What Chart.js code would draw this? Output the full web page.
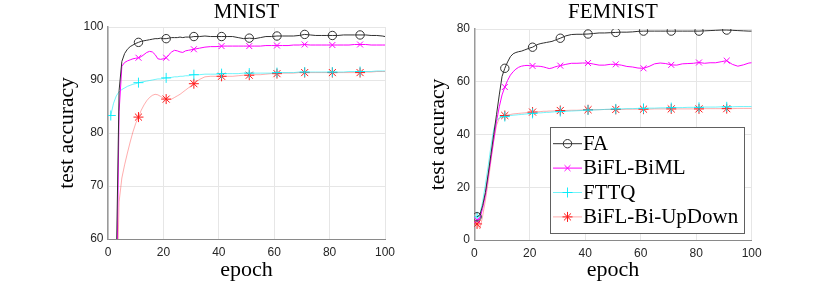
<!DOCTYPE html>
<html><head><meta charset="utf-8">
<script src="https://cdn.jsdelivr.net/npm/chart.js@4.4.1/dist/chart.umd.min.js"></script>
<style>
html,body{margin:0;padding:0;background:#fff;width:830px;height:290px;overflow:hidden}
canvas{position:absolute;top:0}
#c1{left:0}
#c2{left:415px}
</style></head><body>
<canvas id="c1" width="415" height="290" style="width:415px;height:290px"></canvas>
<canvas id="c2" width="415" height="290" style="width:415px;height:290px"></canvas>
<script>
// ---------- data ----------
const epochs = [1,2,3,4,5,6,7,8,9,10,11,12,13,14,15,16,17,18,19,20,21,22,23,24,25,26,27,28,29,30,
  31,33,35,37,39,41,43,45,47,49,51,53,55,57,59,61,63,65,67,69,71,73,75,77,79,81,83,85,87,89,91,93,95,97,99,100];
const seriesNames = ['FA','BiFL-BiML','FTTQ','BiFL-Bi-UpDown'];
const chartTitles = ['MNIST','FEMNIST'];
const xTitle = 'epoch';
const yTitle = 'test accuracy';
const xTicks = [0,20,40,60,80,100];
const mnistYTicks = [60,70,80,90,100];
const femnistYTicks = [0,20,40,60,80];

const mnistFA = [10,11,55,88,93.5,95.0,95.8,96.3,96.6,96.9,
  97.1,97.3,97.4,97.5,97.6,97.7,97.8,97.8,97.9,97.8,
  97.8,97.9,98.0,98.0,98.0,98.1,98.0,98.1,98.1,98.1,
  98.2,98.2,98.3,98.2,98.2,98.2,98.2,98.2,98.0,97.8,
  97.9,97.8,98.0,98.2,98.2,98.3,98.3,98.3,98.3,98.4,
  98.6,98.5,98.4,98.4,98.4,98.4,98.4,98.5,98.5,98.5,
  98.5,98.5,98.4,98.4,98.3,98.2];
const mnistBiML = [10,10,45,84,92.6,93.3,93.6,93.8,94.0,94.1,
  94.2,94.4,94.8,95.2,95.4,95.3,94.8,94.0,93.9,94.0,
  94.2,94.8,95.3,95.6,95.5,95.3,95.2,95.5,95.6,95.7,
  95.8,96.0,96.2,96.3,96.3,96.4,96.4,96.4,96.4,96.4,
  96.4,96.4,96.4,96.5,96.5,96.5,96.5,96.5,96.6,96.6,
  96.7,96.6,96.6,96.6,96.6,96.6,96.6,96.6,96.6,96.7,
  96.7,96.7,96.6,96.6,96.6,96.6];
const mnistFTTQ = [83.3,85.6,87.0,87.8,88.2,88.5,88.8,89.0,89.2,89.3,
  89.5,89.6,89.7,89.8,89.9,90.0,90.1,90.2,90.2,90.3,
  90.4,90.4,90.5,90.6,90.6,90.7,90.7,90.8,90.8,90.9,
  91.0,91.0,91.1,91.1,91.1,91.2,91.2,91.2,91.2,91.3,
  91.3,91.3,91.3,91.3,91.3,91.4,91.4,91.4,91.4,91.5,
  91.5,91.5,91.5,91.5,91.5,91.5,91.5,91.5,91.6,91.6,
  91.6,91.6,91.6,91.7,91.7,91.7];
const mnistUpDown = [10,20,45,67,71.5,74.0,76.2,78.3,80.2,81.8,
  83.0,84.3,85.3,86.1,86.7,87.1,87.3,87.2,86.9,86.6,
  86.4,86.3,86.4,86.7,87.0,87.3,87.7,88.1,88.5,88.9,
  89.3,90.1,90.6,90.7,90.7,90.7,90.7,90.7,90.8,90.9,
  90.9,91.0,91.0,91.1,91.2,91.2,91.3,91.3,91.3,91.4,
  91.4,91.4,91.4,91.4,91.4,91.4,91.4,91.4,91.4,91.4,
  91.4,91.5,91.5,91.6,91.6,91.6];

const femFA = [8.8,9.5,13,18,25,32.5,40,47.5,55,62,
  65.1,67.5,69.5,70.6,71.1,71.4,71.6,72.0,72.4,72.8,
  73.1,73.7,74.2,74.5,74.7,74.9,75.1,75.3,75.7,76.1,
  76.5,77.4,77.9,78.0,78.0,78.1,78.3,78.5,78.5,78.6,
  78.7,78.8,78.8,78.9,79.1,79.2,79.2,79.2,79.2,79.2,
  79.2,79.2,79.2,79.2,79.2,79.2,79.3,79.4,79.5,79.6,
  79.6,79.5,79.4,79.3,79.2,79.2];
const femBiML = [7.5,8,12,17,24,31,38,45,50.5,55,
  58.0,60.5,62.5,63.8,64.8,65.5,65.9,66.1,66.2,66.1,
  66.0,65.9,65.9,65.8,65.6,65.3,65.0,65.2,65.6,65.9,
  66.1,66.6,67.0,67.0,67.1,67.1,66.7,66.3,66.3,66.6,
  66.6,66.3,65.8,65.6,65.2,65.1,65.8,66.8,67.1,66.9,
  66.4,66.3,66.8,66.9,67.0,67.3,67.0,67.2,67.2,67.6,
  68.0,66.6,65.9,66.4,67.1,67.2];
const femFTTQ = [8.8,9.8,14.5,21,28,35.5,42,45.3,46.2,46.6,
  46.8,47.0,47.2,47.3,47.4,47.5,47.6,47.7,47.8,47.9,
  48.0,48.1,48.2,48.2,48.3,48.4,48.4,48.5,48.6,48.6,
  48.7,48.8,48.9,49.0,49.1,49.3,49.3,49.4,49.5,49.6,
  49.7,49.7,49.8,49.8,49.9,49.9,50.0,50.0,50.1,50.1,
  50.2,50.2,50.2,50.3,50.3,50.3,50.4,50.4,50.4,50.5,
  50.5,50.5,50.6,50.6,50.6,50.6];
const femUpDown = [6.1,4.2,9,15,22,30,37.5,43.5,46.2,46.9,
  47.2,47.4,47.6,47.8,47.9,48.0,48.1,48.2,48.3,48.4,
  48.5,48.6,48.6,48.7,48.8,48.8,48.9,48.9,49.0,49.0,
  49.1,49.1,49.2,49.2,49.3,49.4,49.4,49.4,49.5,49.5,
  49.5,49.5,49.6,49.6,49.6,49.6,49.6,49.7,49.7,49.7,
  49.7,49.7,49.7,49.7,49.7,49.7,49.8,49.8,49.8,49.8,
  49.8,49.8,49.9,49.9,49.9,49.9];

// ---------- styles ----------
const styles = [
  {line:'#303030', mark:'#303030', ps:'circle', r:4.2, bw:1},
  {line:'#ff00ff', mark:'#ff00ff', ps:'crossRot', r:4.2, bw:1},
  {line:'rgba(0,235,245,0.55)', mark:'rgba(0,235,250,0.9)', ps:'cross', r:5, bw:1},
  {line:'rgba(255,60,60,0.42)', mark:'#ff1a1a', ps:'star', r:5, bw:1}
];
const serifFont = "'Liberation Serif', 'Times New Roman', serif";
const sansFont = "'Liberation Sans', Arial, sans-serif";

function buildDatasets(series){
  return series.map((vals, i) => {
    const s = styles[i];
    return {
      label: seriesNames[i],
      data: epochs.map((e, k) => ({x: e, y: vals[k]})),
      borderColor: s.line,
      borderWidth: 1,
      backgroundColor: 'rgba(0,0,0,0)',
      pointStyle: s.ps,
      pointBorderColor: s.mark,
      pointBackgroundColor: 'rgba(0,0,0,0)',
      pointBorderWidth: s.bw,
      pointRadius: (c) => (c.raw && (c.raw.x - 1) % 10 === 0) ? s.r : 0,
      pointHoverRadius: 0,
      tension: 0,
      fill: false
    };
  });
}

const boxLegend = {
  id: 'boxLegend',
  afterDatasetsDraw(chart, args, opts) {
    if (!opts || !opts.show) return;
    const ctx = chart.ctx, a = chart.chartArea;
    const w = 194, h = 106;
    const x0 = Math.round(a.right - 7.7 - w), y0 = Math.round(a.bottom - 6.7 - h);
    ctx.save();
    ctx.fillStyle = '#fff';
    ctx.fillRect(x0, y0, w, h);
    ctx.strokeStyle = '#606060';
    ctx.lineWidth = 1;
    ctx.strokeRect(x0 + 0.5, y0 + 0.5, w, h);
    chart.data.datasets.forEach((ds, i) => {
      const s = styles[i];
      const y = y0 + 16.7 + i * 24.4;
      ctx.strokeStyle = s.line;
      ctx.lineWidth = 1;
      ctx.beginPath();
      ctx.moveTo(x0 + 3, y);
      ctx.lineTo(x0 + 32, y);
      ctx.stroke();
      ctx.strokeStyle = s.mark;
      ctx.fillStyle = 'rgba(0,0,0,0)';
      Chart.helpers.drawPoint(ctx, {pointStyle: s.ps, radius: s.r, rotation: 0, borderWidth: s.bw}, x0 + 17.5, y);
      ctx.fillStyle = '#000';
      ctx.font = '21px ' + serifFont;
      ctx.textAlign = 'left';
      ctx.textBaseline = 'middle';
      ctx.fillText(ds.label, x0 + 33, y + 0.5);
    });
    ctx.restore();
  }
};

function makeChart(id, title, series, yMin, yMax, yStep, yTicks, geo, showLegend){
  return new Chart(document.getElementById(id), {
    type: 'line',
    data: { datasets: buildDatasets(series) },
    plugins: [boxLegend],
    options: {
      responsive: false,
      animation: false,
      devicePixelRatio: 1,
      events: [],
      layout: { padding: { left: 0, right: geo.padRight, top: 0, bottom: 0 } },
      plugins: {
        legend: { display: false },
        tooltip: { enabled: false },
        title: {
          display: true, text: title, color: '#000', fullSize: false,
          font: { family: serifFont, size: 21, weight: 'normal' },
          padding: { top: 0, bottom: geo.titlePadBottom }
        },
        boxLegend: { show: showLegend }
      },
      scales: {
        x: {
          type: 'linear', min: 0, max: 100,
          afterFit: (sc) => { sc.height = geo.xHeight; },
          afterBuildTicks: (sc) => { sc.ticks = xTicks.map(v => ({value: v})); },
          ticks: { color: '#262626', font: { family: sansFont, size: 12 }, padding: 6.3, maxRotation: 0, autoSkip: false },
          grid: { color: '#e6e6e6', drawTicks: false, lineWidth: 1 },
          border: { color: '#8a8a8a', width: 1 },
          title: { display: true, text: xTitle, color: '#000', font: { family: serifFont, size: 22 }, padding: { top: 0, bottom: 7.0 } }
        },
        y: {
          type: 'linear', min: yMin, max: yMax,
          afterFit: (sc) => { sc.width = geo.yWidth; },
          afterBuildTicks: (sc) => { sc.ticks = yTicks.map(v => ({value: v})); },
          ticks: { color: '#262626', font: { family: sansFont, size: 12 }, padding: geo.yTickPad },
          grid: { color: '#e6e6e6', drawTicks: false, lineWidth: 1 },
          border: { color: '#9a9a9a', width: 1.5 },
          title: { display: true, text: yTitle, color: '#000', font: { family: serifFont, size: 21.5 }, padding: { top: geo.yTitlePad, bottom: 0 } }
        }
      }
    }
  });
}

makeChart('c1', chartTitles[0], [mnistFA, mnistBiML, mnistFTTQ, mnistUpDown], 60, 100, 10, mnistYTicks,
  { padRight: 30, titlePadBottom: 1.8, xHeight: 51, yWidth: 108, yTickPad: 4.5, yTitlePad: 54.2 }, false);
makeChart('c2', chartTitles[1], [femFA, femBiML, femFTTQ, femUpDown], 0, 80, 20, femnistYTicks,
  { padRight: 78.3, titlePadBottom: 3.8, xHeight: 50, yWidth: 59.3, yTickPad: 4.3, yTitlePad: 10.1 }, true);
</script>
</body></html>
